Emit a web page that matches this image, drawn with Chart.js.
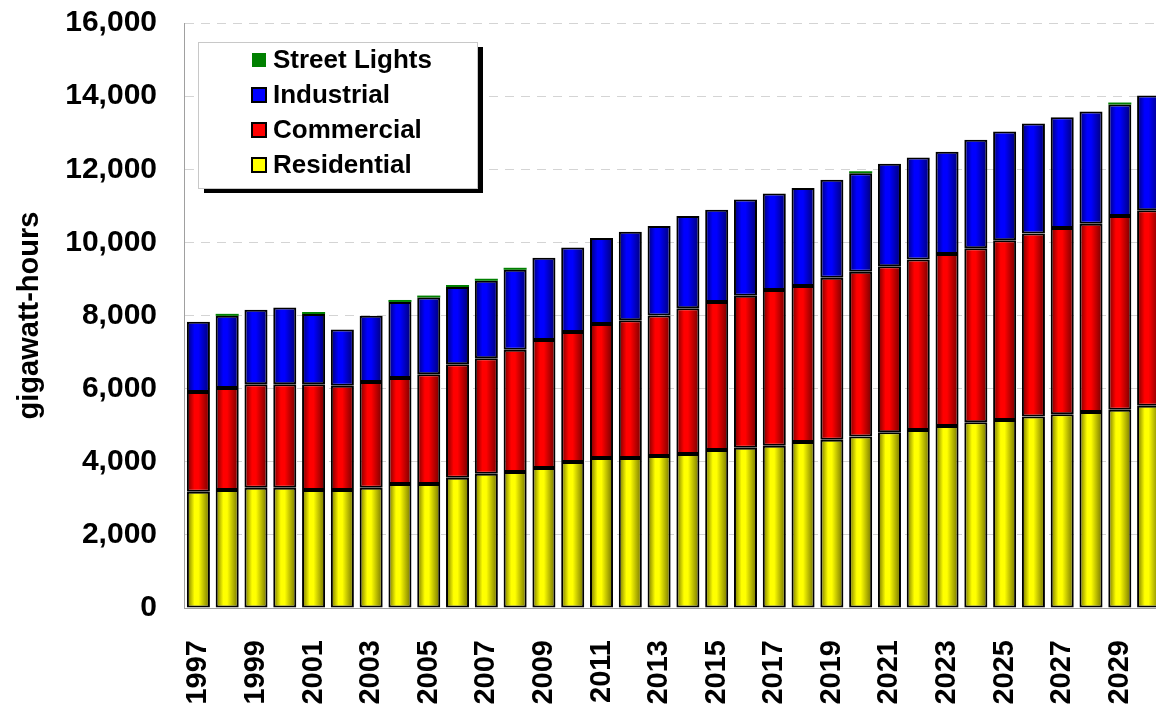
<!DOCTYPE html>
<html>
<head>
<meta charset="utf-8">
<script src="https://cdn.jsdelivr.net/npm/chart.js@4"></script>
<style>
  html, body { margin: 0; padding: 0; background: #fff; overflow: hidden; }
  #wrap { width: 1163px; height: 706px; }
</style>
</head>
<body>
<div id="wrap"><canvas id="chart"></canvas></div>
<script>
const years = ['1997','1998','1999','2000','2001','2002','2003','2004','2005','2006','2007','2008',
    '2009','2010','2011','2012','2013','2014','2015','2016','2017','2018','2019','2020',
    '2021','2022','2023','2024','2025','2026','2027','2028','2029','2030'];

const residential = [3180, 3230, 3290, 3290, 3230, 3230, 3290, 3390, 3390, 3560, 3670, 3720,
    3830, 3990, 4100, 4100, 4160, 4210, 4320, 4380, 4440, 4540, 4600, 4690,
    4810, 4870, 4980, 5080, 5140, 5240, 5300, 5360, 5420, 5530];
const commercial = [2730, 2790, 2830, 2830, 2890, 2850, 2890, 2900, 3000, 3110, 3160, 3340,
    3500, 3560, 3670, 3770, 3840, 3990, 4050, 4160, 4260, 4270, 4430, 4510,
    4540, 4660, 4700, 4760, 4920, 5000, 5090, 5150, 5300, 5350];
const industrial = [1920, 1970, 2040, 2100, 1920, 1540, 1810, 2080, 2100, 2110, 2120, 2190,
    2250, 2310, 2350, 2420, 2450, 2520, 2520, 2630, 2640, 2680, 2680, 2690,
    2800, 2790, 2800, 2970, 2970, 3010, 3030, 3070, 3050, 3140];
const streetLights = [0, 55, 0, 0, 55, 0, 0, 55, 55, 55, 55, 55,
    0, 0, 0, 0, 0, 0, 0, 0, 0, 0, 0, 55,
    0, 0, 0, 0, 0, 0, 0, 0, 55, 0];

const yTicks = [0, 2000, 4000, 6000, 8000, 10000, 12000, 14000, 16000];

const FONT = "'Liberation Sans', Arial, sans-serif";
const BAR_PCT = 0.8;

// horizontal shading across each bar, dark edges and bright middle
function shaded(base, dark) {
    return (c) => {
        const chart = c.chart;
        if (c.type !== 'data' || !chart.chartArea) return base;
        const xs = chart.scales.x;
        const cx = xs.getPixelForValue(c.dataIndex);
        const w = xs.width / years.length * BAR_PCT;
        const g = chart.ctx.createLinearGradient(cx - w / 2, 0, cx + w / 2, 0);
        g.addColorStop(0, dark);
        g.addColorStop(0.33, base);
        g.addColorStop(0.5, base);
        g.addColorStop(1, dark);
        return g;
    };
}

const datasets = [
    { label: 'Residential', data: residential, color: '#ffff00', dark: '#707000', border: true },
    { label: 'Commercial', data: commercial, color: '#ff0000', dark: '#700000', border: true },
    { label: 'Industrial', data: industrial, color: '#0000ff', dark: '#000070', border: true },
    { label: 'Street Lights', data: streetLights, color: '#008000', dark: '#008000', border: false }
];

// legend box drawn inside the plot, with a drop shadow
const boxLegend = {
    id: 'boxLegend',
    afterDraw(chart) {
        const ctx = chart.ctx;
        const x = 198, y = 42, w = 279, h = 146;
        ctx.save();
        ctx.fillStyle = '#000';
        ctx.fillRect(x + 6, y + 5, w, h);
        ctx.fillStyle = '#fff';
        ctx.fillRect(x, y, w, h);
        ctx.strokeStyle = '#c8c8c8';
        ctx.lineWidth = 1;
        ctx.strokeRect(x + 0.5, y + 0.5, w, h);
        ctx.font = 'bold 26px ' + FONT;
        ctx.textBaseline = 'middle';
        const items = chart.data.datasets.slice().reverse();
        items.forEach((ds, i) => {
            const cy = 60 + i * 35;
            ctx.fillStyle = ds.swatch;
            ctx.fillRect(252, cy - 7, 14, 14);
            if (ds.hasBorder) {
                ctx.strokeStyle = '#000';
                ctx.lineWidth = 2;
                ctx.strokeRect(252, cy - 7, 14, 14);
            }
            ctx.fillStyle = '#000';
            ctx.fillText(ds.label, 273, cy + 1);
        });
        ctx.restore();
    }
};

new Chart(document.getElementById('chart'), {
    type: 'bar',
    data: {
        labels: years,
        datasets: datasets.map(d => ({
            label: d.label,
            data: d.data,
            swatch: d.color,
            hasBorder: d.border,
            backgroundColor: shaded(d.color, d.dark),
            borderColor: '#000',
            borderWidth: d.border ? 2 : 0,
            borderSkipped: false,
            barPercentage: BAR_PCT,
            categoryPercentage: 1
        }))
    },
    options: {
        responsive: true,
        maintainAspectRatio: false,
        animation: false,
        layout: { padding: { top: 23, right: 0, bottom: 0, left: 0 } },
        plugins: {
            legend: { display: false },
            tooltip: { enabled: false }
        },
        scales: {
            x: {
                stacked: true,
                grid: { display: false },
                border: { display: true, color: '#a0a0a0' },
                ticks: {
                    autoSkip: false,
                    minRotation: 90,
                    maxRotation: 90,
                    padding: 24,
                    color: '#000',
                    font: { family: FONT, size: 29, weight: 'bold' },
                    callback: (v, i) => (i % 2 === 0 ? years[i] : '')
                },
                afterFit: (s) => {
                    s.height = 98;
                    s.paddingLeft = 0;
                    s.paddingRight = 0;
                }
            },
            y: {
                stacked: true,
                min: 0,
                max: 16000,
                afterBuildTicks: (s) => { s.ticks = yTicks.map(v => ({ value: v })); },
                grid: { color: '#d4d4d4', drawTicks: false, lineWidth: 1 },
                border: { display: true, color: '#a0a0a0', dash: [9, 7] },
                ticks: {
                    padding: 27,
                    color: '#000',
                    font: { family: FONT, size: 30, weight: 'bold' },
                    callback: (v) => v.toLocaleString('en-US')
                },
                title: {
                    display: true,
                    text: 'gigawatt-hours',
                    color: '#000',
                    font: { family: FONT, size: 29, weight: 'bold' },
                    padding: { top: 13, bottom: 0 }
                },
                afterFit: (s) => {
                    s.width = 184;
                    s.paddingTop = 0;
                    s.paddingBottom = 0;
                }
            }
        }
    },
    plugins: [boxLegend]
});
</script>
</body>
</html>
